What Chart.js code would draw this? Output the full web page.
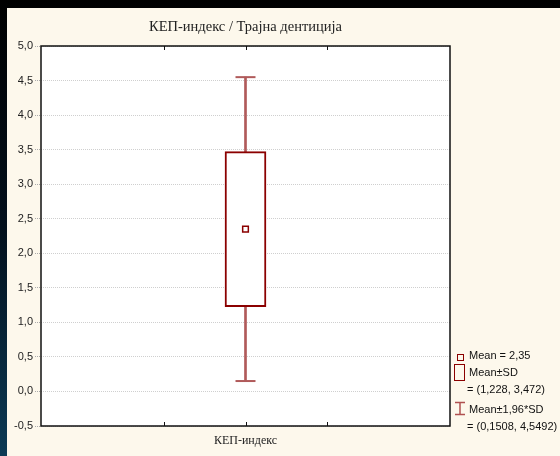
<!DOCTYPE html>
<html>
<head>
<meta charset="utf-8">
<script src="https://cdn.jsdelivr.net/npm/chart.js@4"></script>
<style>
    html, body { margin: 0; padding: 0; }
    body {
        width: 560px;
        height: 456px;
        position: relative;
        overflow: hidden;
        background: linear-gradient(to bottom, #000 0%, #03101c 50%, #0c3a55 100%);
    }
    #wrap {
        position: absolute;
        left: 7px;
        top: 8px;
        width: 553px;
        height: 448px;
        background: #fdf8ec;
    }
    .legend {
        position: absolute;
        left: 450px;
        top: 338px;
        font-family: "Liberation Sans", Arial, sans-serif;
        font-size: 11px;
        color: #111;
    }
    .row { position: absolute; white-space: nowrap; }
    .sym { position: absolute; box-sizing: border-box; }
</style>
</head>
<body>
<div id="wrap">
    <canvas id="chart" width="553" height="448"></canvas>
    <div class="legend">
        <div class="sym" style="left:0;top:8px;width:7px;height:7px;border:1px solid #8b0000;"></div>
        <div class="row" style="left:12px;top:3px;">Mean = 2,35</div>
        <div class="sym" style="left:-3px;top:18px;width:11px;height:17px;border:1.5px solid #8b0000;"></div>
        <div class="row" style="left:12px;top:20px;">Mean±SD</div>
        <div class="row" style="left:10px;top:37px;">= (1,228, 3,472)</div>
        <svg class="sym" style="left:-3px;top:55px;" width="12" height="15">
            <path d="M1 1.5 H11 M6 1.5 V13.5 M1 13.5 H11" stroke="#b05050" stroke-width="1.5" fill="none"/>
        </svg>
        <div class="row" style="left:12px;top:57px;">Mean±1,96*SD</div>
        <div class="row" style="left:10px;top:74px;">= (0,1508, 4,5492)</div>
    </div>
</div>
<script>
// data
const categories = ['КЕП-индекс'];
const meanValues = [2.35];
const sdLow = [1.228];
const sdHigh = [3.472];
const ciLow = [0.1508];
const ciHigh = [4.5492];
const chartTitle = 'КЕП-индекс / Трајна дентиција';

const boxColor = '#8b0000';
const whiskerColor = '#b05a5a';

// white plot area, frame and inner x ticks like the original
const plotFrame = {
    id: 'plotFrame',
    beforeDraw(chart) {
        const { ctx, chartArea: a } = chart;
        ctx.save();
        ctx.fillStyle = '#fff';
        ctx.fillRect(a.left, a.top, a.right - a.left, a.bottom - a.top);
        ctx.restore();
    },
    afterDraw(chart) {
        const { ctx, chartArea: a } = chart;
        const xs = chart.scales.x;
        ctx.save();
        ctx.strokeStyle = '#111';
        ctx.lineWidth = 1.5;
        ctx.strokeRect(a.left, a.top, a.right - a.left, a.bottom - a.top);
        ctx.lineWidth = 1;
        xs.ticks.forEach(t => {
            if (t.value <= xs.min || t.value >= xs.max) return;
            const x = Math.round(xs.getPixelForValue(t.value)) + 0.5;
            ctx.beginPath();
            ctx.moveTo(x, a.top);
            ctx.lineTo(x, a.top + 4);
            ctx.moveTo(x, a.bottom);
            ctx.lineTo(x, a.bottom - 4);
            ctx.stroke();
        });
        ctx.restore();
    }
};

const ctx = document.getElementById('chart').getContext('2d');
const chart = new Chart(ctx, {
    type: 'bar',
    data: {
        datasets: [
            {
                type: 'scatter',
                data: meanValues.map(v => ({ x: 1, y: v })),
                pointStyle: 'rect',
                pointRadius: 4,
                backgroundColor: '#fff',
                borderColor: boxColor,
                borderWidth: 1.5,
                order: 0
            },
            {
                type: 'scatter',
                data: [{ x: 1, y: ciLow[0] }, { x: 1, y: ciHigh[0] }],
                pointStyle: 'line',
                pointRadius: 10,
                borderColor: whiskerColor,
                borderWidth: 2,
                order: 1
            },
            {
                data: sdLow.map((v, i) => ({ x: 1, y: [v, sdHigh[i]] })),
                backgroundColor: '#fff',
                borderColor: boxColor,
                borderWidth: 2,
                borderSkipped: false,
                barThickness: 41,
                grouped: false,
                order: 2
            },
            {
                data: ciLow.map((v, i) => ({ x: 1, y: [v, ciHigh[i]] })),
                backgroundColor: whiskerColor,
                borderWidth: 0,
                barThickness: 2,
                grouped: false,
                order: 3
            }
        ]
    },
    options: {
        responsive: false,
        animation: false,
        layout: { padding: { top: 0, right: 110, bottom: 0, left: 0 } },
        plugins: {
            legend: { display: false },
            tooltip: { enabled: false },
            title: {
                display: true,
                text: chartTitle,
                fullSize: false,
                color: '#222',
                font: { family: '"Liberation Serif", "Times New Roman", serif', size: 14.5, weight: 'normal' },
                padding: { top: 10, bottom: 10.6 }
            }
        },
        scales: {
            x: {
                type: 'linear',
                min: 0,
                max: 2,
                grid: { display: false, drawTicks: false },
                border: { display: false },
                afterFit(scale) { scale.height = 30; },
                ticks: {
                    stepSize: 0.5,
                    autoSkip: false,
                    maxRotation: 0,
                    padding: 8,
                    color: '#222',
                    font: { family: '"Liberation Serif", "Times New Roman", serif', size: 12 },
                    callback: v => (v === 1 ? categories[0] : '')
                }
            },
            y: {
                min: -0.5,
                max: 5,
                grid: {
                    color: '#cfcfcf',
                    tickColor: '#aaa',
                    tickLength: 6,
                    tickBorderDash: [1, 1]
                },
                border: { display: false, dash: [1, 1] },
                afterFit(scale) { scale.width = 34; },
                ticks: {
                    stepSize: 0.5,
                    padding: 2,
                    color: '#222',
                    font: { family: '"Liberation Sans", Arial, sans-serif', size: 11 },
                    callback: v => v.toFixed(1).replace('.', ',')
                }
            }
        }
    },
    plugins: [plotFrame]
});
</script>
</body>
</html>
